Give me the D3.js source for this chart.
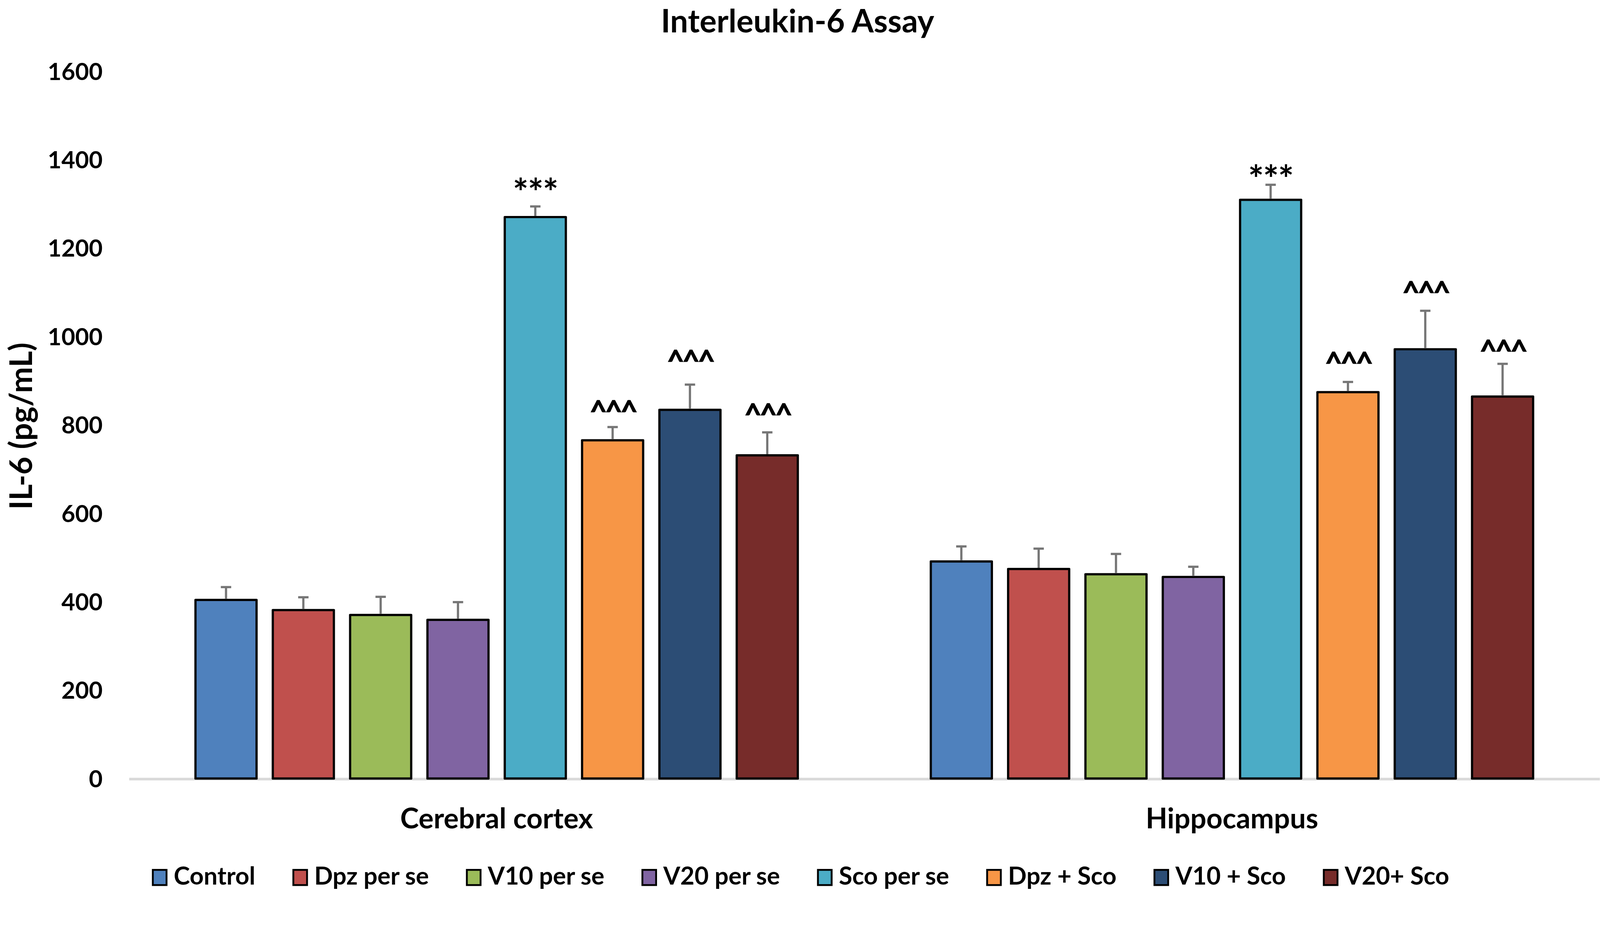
<!DOCTYPE html>
<html>
<head>
<meta charset="utf-8">
<script src="https://cdn.jsdelivr.net/npm/d3@7"></script>
<style>
  html, body { margin: 0; padding: 0; background: #fff; overflow: hidden; }
  svg { display: block; width: 100%; height: auto; font-family: Lato, "Open Sans", sans-serif; font-weight: bold; }
</style>
</head>
<body>
<svg id="chart" viewBox="0 0 4317 2412" preserveAspectRatio="xMinYMin meet"></svg>
<script>
// categories on the x axis and the eight treatment groups
const categories = ["Cerebral cortex", "Hippocampus"];
const groups = ["Control", "Dpz per se", "V10 per se", "V20 per se", "Sco per se", "Dpz + Sco", "V10 + Sco", "V20+ Sco"];
const colors = ["#4F81BD", "#C0504D", "#9BBB59", "#8064A2", "#4BACC6", "#F79646", "#2C4D75", "#772C2A"];

// IL-6 means and SEM (pg/mL)
const cortexMeans = [404, 381, 370, 359, 1270, 765, 834, 731];
const cortexErr   = [29, 29, 41, 40, 24, 30, 57, 52];
const hippoMeans  = [491, 474, 462, 456, 1309, 874, 971, 864];
const hippoErr    = [34, 46, 46, 23, 34, 23, 87, 74];

// significance marks and the value level they sit at
const cortexMarks  = ["", "", "", "", "***", "^^^", "^^^", "^^^"];
const cortexMarkAt = [0, 0, 0, 0, 1346, 841, 955, 834];
const hippoMarks   = ["", "", "", "", "***", "^^^", "^^^", "^^^"];
const hippoMarkAt  = [0, 0, 0, 0, 1376, 950, 1110, 978];

const yTicks = [0, 200, 400, 600, 800, 1000, 1200, 1400, 1600];

const svg = d3.select("#chart");

const rows = [
  { cat: categories[0], means: cortexMeans, err: cortexErr, marks: cortexMarks, markAt: cortexMarkAt },
  { cat: categories[1], means: hippoMeans, err: hippoErr, marks: hippoMarks, markAt: hippoMarkAt }
];

const y = d3.scaleLinear().domain([0, 1600]).range([2101, 192]);

const x0 = d3.scaleBand()
  .domain(categories)
  .range([348, 4316])
  .paddingInner(0)
  .paddingOuter(0);

const x1 = d3.scaleBand()
  .domain(groups)
  .range([0, x0.bandwidth()])
  .paddingInner(0.21)
  .paddingOuter(0.86);

// title
svg.append("text")
  .attr("x", 2152)
  .attr("y", 88)
  .attr("text-anchor", "middle")
  .attr("font-size", 86)
  .text("Interleukin-6 Assay");

// y axis (labels only)
const yAxis = svg.append("g")
  .attr("transform", "translate(348,0)")
  .call(d3.axisLeft(y).tickValues(yTicks).tickFormat(d3.format("d")).tickSize(0).tickPadding(71));
yAxis.select(".domain").remove();
yAxis.selectAll("text")
  .attr("font-size", 64)
  .attr("font-family", "Lato, sans-serif")
  .attr("font-weight", "bold")
  .attr("fill", "#000")
  .attr("dy", "0.36em");

svg.append("text")
  .attr("transform", "translate(86,1150) rotate(-90)")
  .attr("text-anchor", "middle")
  .attr("font-size", 84)
  .text("IL-6 (pg/mL)");

// x axis line and category labels
const xAxis = svg.append("g")
  .attr("transform", `translate(0,${y(0) + 1})`)
  .call(d3.axisBottom(x0).tickSize(0).tickSizeOuter(0));
xAxis.select(".domain")
  .attr("stroke", "#d9d9d9")
  .attr("stroke-width", 7);
xAxis.selectAll("text")
  .attr("font-size", 76)
  .attr("font-family", "Lato, sans-serif")
  .attr("font-weight", "bold")
  .attr("fill", "#000")
  .attr("dy", 0)
  .attr("y", 133);

// bars
const groupG = svg.selectAll(".grp")
  .data(rows)
  .enter()
  .append("g")
  .attr("class", "grp")
  .attr("transform", d => `translate(${x0(d.cat)},0)`);

const items = groupG.selectAll(".item")
  .data(d => groups.map((g, i) => ({ g, i, v: d.means[i], e: d.err[i], m: d.marks[i], at: d.markAt[i] })))
  .enter()
  .append("g");

items.append("rect")
  .attr("x", d => x1(d.g))
  .attr("y", d => y(d.v))
  .attr("width", x1.bandwidth())
  .attr("height", d => y(0) - y(d.v))
  .attr("fill", d => colors[d.i])
  .attr("stroke", "#000")
  .attr("stroke-width", 6)
  .attr("stroke-linejoin", "round");

// upper error bars
items.append("line")
  .attr("x1", d => x1(d.g) + x1.bandwidth() / 2)
  .attr("x2", d => x1(d.g) + x1.bandwidth() / 2)
  .attr("y1", d => y(d.v) - 3)
  .attr("y2", d => y(d.v + d.e))
  .attr("stroke", "#767676")
  .attr("stroke-width", 6);

items.append("line")
  .attr("x1", d => x1(d.g) + x1.bandwidth() / 2 - 14)
  .attr("x2", d => x1(d.g) + x1.bandwidth() / 2 + 14)
  .attr("y1", d => y(d.v + d.e))
  .attr("y2", d => y(d.v + d.e))
  .attr("stroke", "#767676")
  .attr("stroke-width", 6);

// significance marks
const stars = items.filter(d => d.m === "***");
stars.append("text")
  .attr("x", d => x1(d.g) + x1.bandwidth() / 2)
  .attr("y", d => y(d.at) + 0.6 * 100)
  .attr("text-anchor", "middle")
  .attr("font-size", 100)
  .attr("letter-spacing", -2)
  .text(d => d.m);

const carets = items.filter(d => d.m === "^^^");
carets.append("text")
  .attr("x", d => x1(d.g) + x1.bandwidth() / 2)
  .attr("y", d => y(d.at) + 0.52 * 82)
  .attr("text-anchor", "middle")
  .attr("font-size", 82)
  .attr("letter-spacing", -6)
  .attr("stroke", "#000")
  .attr("stroke-width", 1.5)
  .text(d => d.m);

// legend
const legend = svg.append("g");
const swW = 42, swH = 46, gapText = 17, gapItem = 100;
let cursor = 0;
groups.forEach((g, i) => {
  const item = legend.append("g").attr("transform", `translate(${cursor},0)`);
  item.append("rect")
    .attr("x", 2.5)
    .attr("y", 2347.5)
    .attr("width", swW - 5)
    .attr("height", swH - 5)
    .attr("fill", colors[i])
    .attr("stroke", "#000")
    .attr("stroke-width", 5);
  const t = item.append("text")
    .attr("x", swW + gapText)
    .attr("y", 2387)
    .attr("font-size", 66)
    .text(g);
  cursor += swW + gapText + t.node().getComputedTextLength() + gapItem;
});
const legendWidth = cursor - gapItem;
legend.attr("transform", `translate(${2160 - legendWidth / 2},0)`);
</script>
</body>
</html>
